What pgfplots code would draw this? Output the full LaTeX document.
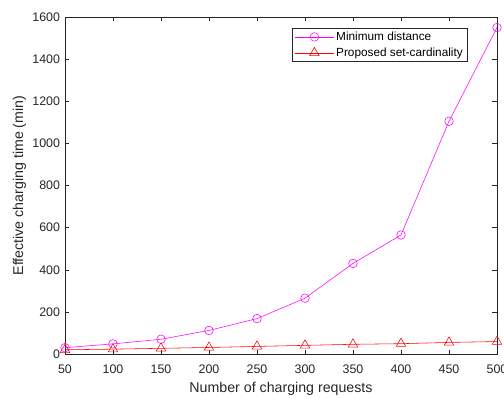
\documentclass[border=0pt]{standalone}
\usepackage{pgfplots}
\pgfplotsset{compat=1.18}
\usepackage{fontspec}
\setmainfont{Liberation Sans}
\definecolor{mindist}{rgb}{1,0,1}
\definecolor{setcard}{rgb}{1,0,0}

\begin{document}
\begin{tikzpicture}
\begin{axis}[
  name=ax,
  at={(0pt,0pt)}, anchor=south west,
  scale only axis,
  width=432pt, height=337pt,
  xmin=50, xmax=500, ymin=0, ymax=1600,
  xtick={50,100,...,500},
  ytick={0,200,...,1600},
  tick align=inside,
  tick pos=both,
  major tick length=4.5pt,
  /pgf/number format/assume math mode=true,
  /pgf/number format/1000 sep={},
  ticklabel style={font=\fontsize{12.4}{14}\selectfont, text=black!85},
  xticklabel style={anchor=base, yshift=-19pt},
  yticklabel style={xshift=-1.5pt},
  label style={font=\fontsize{14.2}{16}\selectfont, text=black!85},
  xlabel={Number of charging requests},
  ylabel={Effective charging time (min)},
  xlabel style={at={(axis description cs:0.5,-0.1157)}, anchor=base},
  ylabel style={at={(axis description cs:-0.0972,0.5)}, anchor=base},
  axis line style={black!85, line width=0.5pt},
  tick style={black!85, line width=0.5pt},
  legend style={at={(0.9306,0.967)}, anchor=north east,
    font=\fontsize{11.8}{13}\selectfont, draw=black!85, line width=0.5pt,
    inner xsep=2pt, inner ysep=1.5pt, row sep=2pt, cells={anchor=west}},
  legend cell align=left,
  legend image code/.code={%
    \draw[mark repeat=2, mark phase=2]
      plot coordinates {(0pt,0pt) (19.5pt,0pt) (39pt,0pt)};},
]
\addplot[color=mindist, line width=0.55pt, mark=o, mark size=4.3pt,
  mark options={line width=0.55pt}]
  coordinates {(50,30) (100,48) (150,70) (200,112) (250,168) (300,265)
               (350,430) (400,565) (450,1105) (500,1550)};
\addlegendentry{Minimum distance}
\addplot[color=setcard, line width=0.55pt, mark=triangle, mark size=5.5pt,
  mark options={line width=0.55pt}]
  coordinates {(50,20) (100,23) (150,27) (200,31) (250,36) (300,41)
               (350,46) (400,49) (450,55) (500,59)};
\addlegendentry{Proposed set-cardinality}
\end{axis}
% fixed page frame around the axis box and its labels
\pgfresetboundingbox
\path (-65pt,-45pt) rectangle (439pt,354pt);
\end{tikzpicture}
\end{document}
